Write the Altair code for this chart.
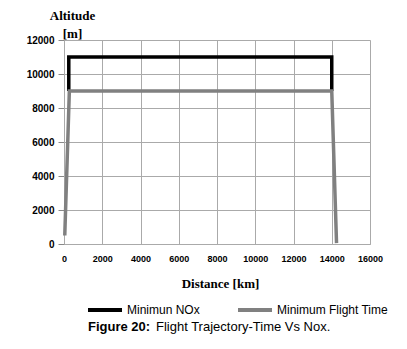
import altair as alt
import pandas as pd

# Data
series_names = ["Minimun NOx", "Minimum Flight Time"]
nox_distance = [250, 250, 14000, 14000]
nox_altitude = [9000, 11000, 11000, 9000]
time_distance = [40, 280, 14000, 14250]
time_altitude = [500, 9000, 9000, 50]
x_ticks = [0, 2000, 4000, 6000, 8000, 10000, 12000, 14000, 16000]
y_ticks = [0, 2000, 4000, 6000, 8000, 10000, 12000]

df_nox = pd.DataFrame({"Distance": nox_distance, "Altitude": nox_altitude,
                       "Series": series_names[0], "idx": range(len(nox_distance))})
df_time = pd.DataFrame({"Distance": time_distance, "Altitude": time_altitude,
                        "Series": series_names[1], "idx": range(len(time_distance))})

color = alt.Color(
    "Series:N",
    scale=alt.Scale(domain=series_names, range=["#000000", "#808080"]),
    legend=alt.Legend(
        title=None, orient="none", legendX=22, legendY=251, direction="horizontal",
        symbolType="stroke", symbolSize=1156, symbolStrokeWidth=4,
        labelFont="Liberation Sans", labelFontSize=12, labelColor="#000000",
        columnPadding=30, labelOffset=3, symbolOffset=0,
    ),
)

x_enc = alt.X(
    "Distance:Q",
    scale=alt.Scale(domain=[0, 16000], nice=False),
    axis=alt.Axis(
        values=x_ticks, tickCount=40, format="d", labelOverlap=False,
        labelFlush=False,
        title="Distance [km]", titleFont="Liberation Serif",
        titleFontSize=13, titleFontWeight="bold", titleColor="#000000",
        titleY=33, titleBaseline="top", titleX=156,
        labelFont="Liberation Sans", labelFontSize=9, labelFontWeight="bold",
        labelColor="#000000", labelPadding=10, ticks=False,
        domainColor="#aaaaaa", gridColor="#aaaaaa", gridOpacity=1,
    ),
)
y_enc = alt.Y(
    "Altitude:Q",
    scale=alt.Scale(domain=[0, 12000], nice=False),
    axis=alt.Axis(
        values=y_ticks, tickCount=40, format="d", labelOverlap=False,
        labelFlush=False,
        title=["Altitude", "[m]"], titleAngle=0,
        titleFont="Liberation Serif", titleFontSize=13, titleFontWeight="bold",
        titleColor="#000000", titleAlign="center", titleBaseline="top",
        titleX=8, titleY=-31, titleLineHeight=18,
        labelFont="Liberation Sans", labelFontSize=10, labelFontWeight="bold",
        labelColor="#000000", labelPadding=4, tickSize=6, tickColor="#888888",
        domainColor="#aaaaaa", gridColor="#aaaaaa", gridOpacity=1,
    ),
)

line_nox = alt.Chart(df_nox).mark_line(strokeWidth=3.5).encode(
    x=x_enc, y=y_enc, color=color, order="idx:Q"
)
line_time = alt.Chart(df_time).mark_line(strokeWidth=3.5).encode(
    x=x_enc, y=y_enc, color=color, order="idx:Q"
)

cap_df = pd.DataFrame({"a": [0]})
cap_bold = alt.Chart(cap_df).mark_text(
    text="Figure 20:", font="Liberation Sans", fontSize=13, fontWeight="bold",
    align="left", baseline="middle", color="#000000",
).encode(x=alt.value(24), y=alt.value(287))
cap_rest = alt.Chart(cap_df).mark_text(
    text="Flight Trajectory-Time Vs Nox.", font="Liberation Sans", fontSize=13,
    align="left", baseline="middle", color="#000000",
).encode(x=alt.value(92), y=alt.value(287))

chart = alt.layer(line_nox, line_time, cap_bold, cap_rest).properties(
    width=306, height=204,
    autosize=alt.AutoSizeParams(type="none"),
    padding={"left": 56, "top": 32, "right": 20, "bottom": 95},
).configure_view(stroke=None).configure(background="white")

chart.save("out.html", embed_options={"renderer": "svg", "actions": False})
